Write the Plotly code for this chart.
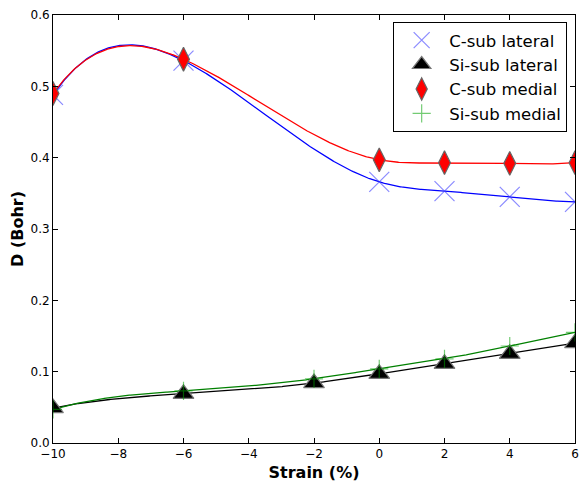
import numpy as np
import plotly.graph_objects as go

# Strain values (%) and displacement D (Bohr)
strain_c = [-10, -6, 0, 2, 4, 6]
c_lateral = [0.488, 0.536, 0.366, 0.353, 0.345, 0.338]
c_medial = [0.490, 0.538, 0.397, 0.393, 0.392, 0.393]

strain_si = [-10, -6, -2, 0, 2, 4, 6]
si_lateral = [0.049, 0.069, 0.084, 0.097, 0.111, 0.125, 0.140]
si_medial = [0.047, 0.073, 0.090, 0.104, 0.118, 0.136, 0.155]

x_ticks = [-10, -8, -6, -4, -2, 0, 2, 4, 6]
y_ticks = [0.0, 0.1, 0.2, 0.3, 0.4, 0.5, 0.6]


def smoothest_spline(xs, ys, n=500):
    """Interpolating cubic spline whose third-derivative jumps at the
    interior knots have the smallest total square ('smoothest')."""
    x = np.asarray(xs, float)
    y = np.asarray(ys, float)
    k = len(x)
    h = np.diff(x)
    A = np.zeros((k, k))
    b = np.zeros(k)
    A[0, 0] = A[-1, -1] = 1.0
    for i in range(1, k - 1):
        A[i, i - 1] = h[i - 1]
        A[i, i] = 2 * (h[i - 1] + h[i])
        A[i, i + 1] = h[i]
        b[i] = 6 * ((y[i + 1] - y[i]) / h[i] - (y[i] - y[i - 1]) / h[i - 1])
    Ainv = np.linalg.inv(A)
    m_part = Ainv @ b
    v1 = Ainv[:, 0]
    v2 = Ainv[:, -1]

    def jumps(m):
        d3 = np.diff(m) / h
        return np.diff(d3)

    M = np.column_stack([jumps(v1), jumps(v2)])
    pq, *_ = np.linalg.lstsq(M, -jumps(m_part), rcond=None)
    m = m_part + pq[0] * v1 + pq[1] * v2

    xf = np.linspace(x[0], x[-1], n)
    idx = np.clip(np.searchsorted(x, xf) - 1, 0, k - 2)
    x0, x1 = x[idx], x[idx + 1]
    hh = x1 - x0
    t0, t1 = x1 - xf, xf - x0
    yf = (m[idx] * t0 ** 3 + m[idx + 1] * t1 ** 3) / (6 * hh) \
        + (y[idx] / hh - m[idx] * hh / 6) * t0 \
        + (y[idx + 1] / hh - m[idx + 1] * hh / 6) * t1
    return xf, yf


fig = go.Figure()

# Smooth fitted curves
for xs, ys, col in [
    (strain_c, c_lateral, "#0000ff"),
    (strain_c, c_medial, "#ff0000"),
    (strain_si, si_lateral, "#000000"),
    (strain_si, si_medial, "#008000"),
]:
    xf, yf = smoothest_spline(xs, ys)
    fig.add_trace(go.Scatter(x=xf, y=yf, mode="lines", showlegend=False,
                             line=dict(color=col, width=1.3), hoverinfo="skip"))

# Data markers
fig.add_trace(go.Scatter(
    x=strain_c, y=c_lateral, mode="markers", name="C-sub lateral",
    marker=dict(symbol="x-thin", size=20,
                line=dict(color="rgba(60,60,255,0.6)", width=1.2))))
fig.add_trace(go.Scatter(
    x=strain_si, y=si_lateral, mode="markers", name="Si-sub lateral",
    marker=dict(symbol="triangle-up", size=18, color="#000000",
                line=dict(color="#777777", width=1.2))))
fig.add_trace(go.Scatter(
    x=strain_c, y=c_medial, mode="markers", name="C-sub medial",
    marker=dict(symbol="diamond-tall", size=17, color="#ff0000",
                line=dict(color="#666666", width=1.2))))
fig.add_trace(go.Scatter(
    x=strain_si, y=si_medial, mode="markers", name="Si-sub medial",
    marker=dict(symbol="cross-thin", size=13,
                line=dict(color="rgba(0,160,0,0.55)", width=1.2))))

axis_common = dict(
    showline=True, linecolor="#000000", linewidth=1, mirror="allticks",
    ticks="inside", ticklen=5, tickcolor="#000000", showgrid=False,
    zeroline=False, tickfont=dict(family="DejaVu Sans", size=12, color="#000000"),
)

fig.update_layout(
    width=583, height=483,
    margin=dict(l=53, r=4, t=15, b=35),
    paper_bgcolor="white", plot_bgcolor="white",
    font=dict(family="DejaVu Sans", color="#000000"),
    xaxis=dict(range=[-10, 6], tickvals=x_ticks,
               title=dict(text="<b>Strain (%)</b>", font=dict(size=16), standoff=6),
               **axis_common),
    yaxis=dict(range=[0, 0.6], tickvals=y_ticks, tickformat=".1f",
               title=dict(text="<b>D (Bohr)</b>", font=dict(size=16), standoff=2),
               **axis_common),
    legend=dict(x=0.985, y=0.984, xanchor="right", yanchor="top",
                bgcolor="white", bordercolor="#000000", borderwidth=1,
                font=dict(size=16.5), itemwidth=45),
)

fig.write_html("out.html")
